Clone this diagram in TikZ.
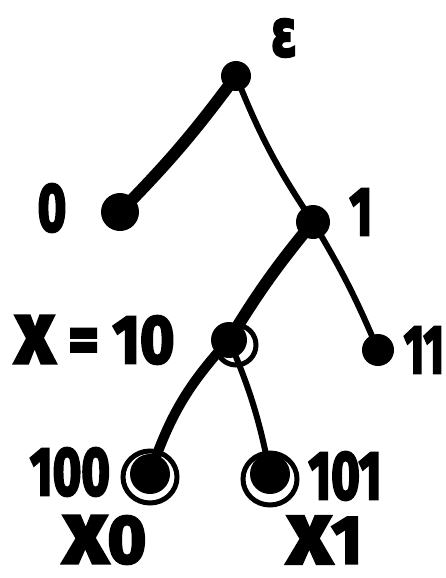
\documentclass[tikz,border=0pt]{standalone}
\usepackage{fontspec}
\usetikzlibrary{shapes.geometric}
\newfontfamily\hand{Fira Sans}[BoldFeatures={FakeBold=4}]
\newfontfamily\handgreek{DejaVu Sans}[BoldFeatures={FakeBold=4}]
\begin{document}
\begin{tikzpicture}[x=1pt,y=-1pt,
  dot/.style={circle,fill=black,inner sep=0pt,minimum size=#1},
  lbl/.style={font=\fontsize{68}{68}\hand\bfseries,inner sep=0pt,xscale=0.72},
  thickedge/.style={line width=12pt,line cap=round},
  thinedge/.style={line width=6pt,line cap=round},
  ring/.style={draw,line width=5pt}]
\useasboundingbox (0,0) rectangle (445,578);
% nodes
\node[dot=30pt] (e) at (236,76) {};
\node[dot=38pt] (n0) at (120,212) {};
\node[dot=34pt] (n1) at (313,222) {};
\node[dot=36pt] (n10) at (229,340) {};
\node[dot=32pt] (n11) at (378,350) {};
\node[dot=40pt] (n100) at (150,474) {};
\node[dot=40pt] (n101) at (270,474) {};
% rings
\node[ring,circle,minimum size=40pt,inner sep=0pt] (r10) at (236,345) {};
\node[ring,ellipse,minimum width=54pt,minimum height=52pt,inner sep=0pt] (r100) at (150,477) {};
\node[ring,ellipse,minimum width=54pt,minimum height=52pt,inner sep=0pt] (r101) at (270,479) {};
% edges
\draw[thickedge] (e.center) to[bend left=4] (n0.center);
\draw[thinedge] (e.center) to[bend right=6] (n1.center);
\draw[thickedge] (n1.center) to[bend right=4] (n10.center);
\draw[thinedge] (n1.center) to[bend left=4] (n11.center);
\draw[line width=10pt,line cap=round] (n10.center) to[bend right=12] (n100.center);
\draw[thinedge] (n10.center) to[bend left=6] (n101.center);
% labels
\node[lbl,font=\fontsize{66}{66}\handgreek\bfseries] (le) at (284,38) {ε};
\node[lbl] (l0) at (52,208) {0};
\node[lbl] (l1) at (361,212) {1};
\node[lbl,xscale=1.2] (l10) at (95,340) {{\fontsize{88}{88}\selectfont x} = 10};
\node[lbl,xscale=0.9] (l11) at (424,350) {11};
\node[lbl] (l100) at (70,472) {100};
\node[lbl] (l101) at (345,476) {101};
\node[lbl,xscale=1.35] (lx0) at (105,540) {{\fontsize{88}{88}\selectfont x}0};
\node[lbl,xscale=1.35] (lx1) at (325,540) {{\fontsize{88}{88}\selectfont x}1};
\end{tikzpicture}
\end{document}
